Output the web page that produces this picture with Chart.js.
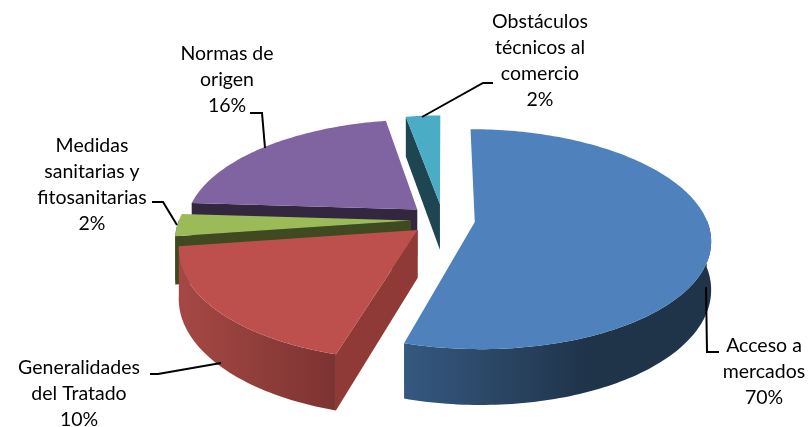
<!DOCTYPE html>
<html><head><meta charset="utf-8">
<style>html,body{margin:0;padding:0;background:#fff}canvas{display:block}</style>
<script src="https://cdn.jsdelivr.net/npm/chart.js@4"></script>
</head><body><canvas id="c" width="808" height="427"></canvas>
<script>
const categories = ["Acceso a mercados","Generalidades del Tratado","Medidas sanitarias y fitosanitarias","Normas de origen","Obstáculos técnicos al comercio"];
const sliceShares = [54.5, 18.2, 3.3, 21.2, 2.8];
const printedPercents = ["70%","10%","2%","16%","2%"];
const explodeOffsets = [32, 33, 32, 35, 36];
const topColors = ["#4f81bd","#bd4f4c","#9bbb59","#8064a2","#4bacc6"];
const wallColors = ["#1f3349","#8f3a37","#3f4a21","#33273f","#1e4652"];
const rimStops = [["#35587f","#1f3349"],["#a54845","#7c3331"],["#3f4a21","#3f4a21"],["#33273f","#33273f"],["#1e4652","#1e4652"]];
const rimRange = [[407,590],[180,335],[170,190],[190,400],[400,440]];
const labelLines = [["Acceso a","mercados"],["Generalidades","del Tratado"],["Medidas","sanitarias y","fitosanitarias"],["Normas de","origen"],["Obstáculos","técnicos al","comercio"]];
const labelCenters = [[764,346],[79,368],[92,146],[227,54],[540,22]];
const leaders = [
 [[706,287],[707,352],[719,352]],
 [[221,363],[158,374],[150,374]],
 [[177,225],[163,202],[152,202]],
 [[265,148],[262,113],[250,113]],
 [[422,117],[483,83],[493,83]]
];
const view = {cx:443, cy:220, R:232, k:0.46, D:1500, h:47};
const paintOrder = [4,3,2,1,0];

function proj(X,Y,Z){
  const s = 1/(1-Y/view.D);
  return [view.cx + X*s, view.cy + Y*view.k*s + Z*s];
}
const pie3d = {
  id:'pie3d',
  beforeDatasetDraw(chart){
    const ctx = chart.ctx, arcs = chart.getDatasetMeta(0).data;
    paintOrder.forEach(i=>{
      const el = arcs[i];
      const a0 = el.startAngle + Math.PI/2, a1 = el.endAngle + Math.PI/2;
      const mid = (a0+a1)/2, off = el.options.offset;
      const ox = off*Math.sin(mid), oy = -off*Math.cos(mid);
      const rim = [];
      const n = Math.max(8, Math.ceil((a1-a0)/0.02));
      for(let j=0;j<=n;j++){
        const t = a0+(a1-a0)*j/n;
        rim.push([ox+view.R*Math.sin(t), oy-view.R*Math.cos(t)]);
      }
      const poly = (pts,fill)=>{
        ctx.beginPath();
        pts.forEach((p,j)=> j?ctx.lineTo(p[0],p[1]):ctx.moveTo(p[0],p[1]));
        ctx.closePath(); ctx.fillStyle = fill; ctx.fill();
      };
      const apexT = proj(ox,oy,0), apexB = proj(ox,oy,view.h);
      // radial walls, only those that face the viewer
      const f = rim[0], l = rim[n];
      if(-Math.sin(a0) > 0.001) poly([apexT,apexB,proj(f[0],f[1],view.h),proj(f[0],f[1],0)], wallColors[i]);
      if(Math.sin(a1) > 0.001) poly([apexT,apexB,proj(l[0],l[1],view.h),proj(l[0],l[1],0)], wallColors[i]);
      // rim
      const g = ctx.createLinearGradient(rimRange[i][0],0,rimRange[i][1],0);
      g.addColorStop(0,rimStops[i][0]); g.addColorStop(1,rimStops[i][1]);
      const front = rim.filter(p=>p[1]>oy-view.R*0.02);
      if(front.length>1){
        const wall = front.map(p=>proj(p[0],p[1],0)).concat(front.slice().reverse().map(p=>proj(p[0],p[1],view.h)));
        poly(wall,g);
      }
      // top
      poly([apexT].concat(rim.map(p=>proj(p[0],p[1],0))), el.options.backgroundColor);
    });
    return false;
  },
  afterDatasetsDraw(chart){
    const ctx = chart.ctx;
    ctx.save();
    ctx.strokeStyle="#000"; ctx.lineWidth=2; ctx.lineJoin="miter";
    leaders.forEach(pts=>{
      ctx.beginPath();
      pts.forEach((p,j)=> j?ctx.lineTo(p[0],p[1]):ctx.moveTo(p[0],p[1]));
      ctx.stroke();
    });
    ctx.fillStyle="#000"; ctx.font="19.5px Lato"; ctx.textAlign="center"; ctx.textBaseline="middle";
    labelLines.forEach((ls,i)=>{
      const lines = ls.concat([printedPercents[i]]);
      lines.forEach((t,j)=> ctx.fillText(t,labelCenters[i][0],labelCenters[i][1]+j*25.8));
    });
    ctx.restore();
  }
};
new Chart(document.getElementById('c'),{
  type:'pie',
  data:{labels:categories,datasets:[{data:sliceShares,backgroundColor:topColors,offset:explodeOffsets,borderWidth:0}]},
  options:{responsive:false,animation:false,plugins:{legend:{display:false},tooltip:{enabled:false}}},
  plugins:[pie3d]
});
</script></body></html>
